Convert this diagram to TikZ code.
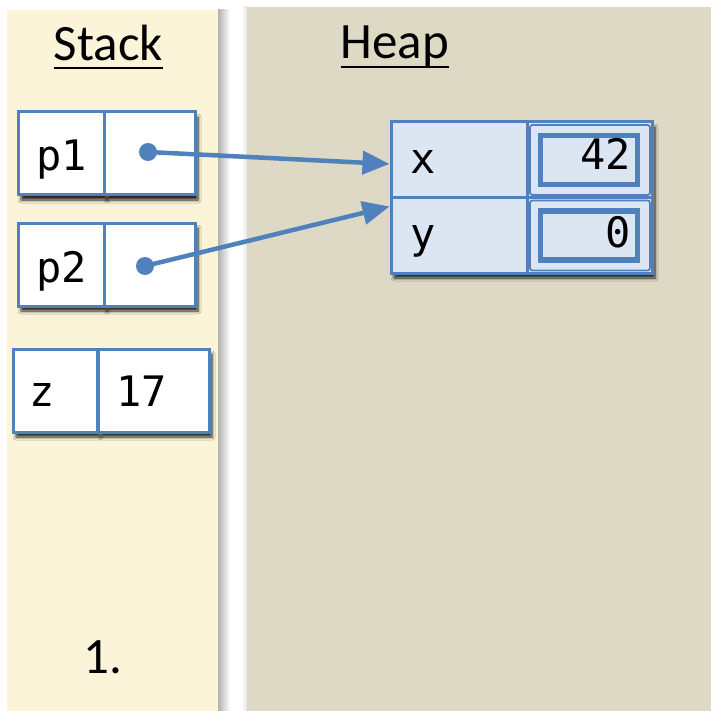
\documentclass[tikz,border=0pt]{standalone}
\usepackage{fontspec}
\setmainfont{Carlito}
\newfontfamily\cellmono{DejaVu Sans Mono}
\usetikzlibrary{arrows.meta,shadows.blur}
\definecolor{stackbg}{RGB}{251,244,217}
\definecolor{heapbg}{RGB}{221,217,196}
\definecolor{bblue}{RGB}{79,129,189}
\definecolor{cellfill}{RGB}{220,230,242}
\tikzset{
  boxshadow/.style={blur shadow={shadow xshift=3pt,shadow yshift=-5pt,shadow blur steps=6,shadow blur radius=3pt,shadow opacity=85}},
  stackcell/.style={draw=bblue,line width=3pt,fill=white,inner sep=0pt,minimum height=83pt,boxshadow},
  heapcell/.style={draw=bblue,line width=3pt,fill=cellfill,inner sep=0pt,minimum width=136pt},
  valframe/.style={draw=bblue,line width=1.8pt,fill=cellfill,rounded corners=2.5pt,inner sep=0pt,minimum width=120pt,minimum height=70pt},
  valinner/.style={draw=bblue,line width=5.5pt,fill=cellfill,inner sep=0pt,minimum width=97pt,minimum height=49pt},
  celltxt/.style={inner sep=0pt,font=\cellmono\fontsize{42}{42}\selectfont},
  titletxt/.style={inner sep=0pt,font=\fontsize{51}{60}\selectfont},
  dot/.style={circle,fill=bblue,inner sep=0pt,minimum size=18pt},
  ptr/.style={draw=bblue,line width=4.5pt,-{Triangle[length=27pt,width=23pt]}}
}
\begin{document}
\begin{tikzpicture}[x=1pt,y=-1pt]
\useasboundingbox (0,0) rectangle (711,711);
\fill[white] (0,0) rectangle (711,711);
% panels
\shade[left color=black!30,right color=white] (218,10) rectangle (230,711);
\fill[stackbg] (7,10) rectangle (218,711);
\shade[left color=white,right color=black!10] (241,7) rectangle (247,711);
\fill[heapbg] (247,7) rectangle (711,711);
% titles
\node[titletxt,anchor=base] (tstack) at (108.5,61) {Stack};
\draw[line width=2.5pt] ([yshift=-7pt]tstack.base west) -- ([yshift=-7pt]tstack.base east);
\node[titletxt,anchor=base] (theap) at (395,59) {Heap};
\draw[line width=2.5pt] ([yshift=-8pt]theap.base west) -- ([yshift=-8pt]theap.base east);
% stack cells
\node[stackcell,minimum width=86pt] (p1l) at (61,153.5) {};
\node[stackcell,minimum width=91pt] (p1v) at (149.5,153.5) {};
\node[stackcell,minimum width=86pt] (p2l) at (61,264.5) {};
\node[stackcell,minimum width=91pt] (p2v) at (149.5,264.5) {};
\node[stackcell,minimum width=84pt] (zl) at (55,390.5) {};
\node[stackcell,minimum width=111pt] (zv) at (153.5,390.5) {};
\node[celltxt,anchor=base west] (tp1) at (36,171) {p1};
\node[celltxt,anchor=base west] (tp2) at (36,282) {p2};
\node[celltxt,anchor=base west] (tz) at (29,406) {z};
\node[celltxt,anchor=base west] (t17) at (116,406) {17};
% heap struct
\node[fill=cellfill,inner sep=0pt,minimum width=261pt,minimum height=151pt,boxshadow] (hs) at (521.5,197.5) {};
\node[heapcell,minimum height=76pt] (hx) at (459,160) {};
\node[heapcell,minimum height=75pt] (hy) at (459,235.5) {};
\node[heapcell,minimum width=125pt,minimum height=76pt] (hxv) at (589.5,160) {};
\node[heapcell,minimum width=125pt,minimum height=75pt] (hyv) at (589.5,235.5) {};
\node[valframe] (fx) at (590,160) {};
\node[valinner] (ix) at (589,160) {};
\node[valframe] (fy) at (590,235.5) {};
\node[valinner] (iy) at (589,235.5) {};
\node[celltxt,anchor=base west] (tx) at (410,174) {x};
\node[celltxt,anchor=base west] (ty) at (410,248) {y};
\node[celltxt,anchor=base east] (t42) at (631,170) {42};
\node[celltxt,anchor=base east] (t0) at (631,247) {0};
% pointers
\node[dot] (d1) at (148,152) {};
\node[dot] (d2) at (145,266) {};
\draw[ptr] (d1.center) -- ([yshift=-4pt]hx.west);
\draw[ptr] (d2.center) -- ([yshift=-10pt]hy.north west);
% step number
\node[titletxt,anchor=base] (step1) at (103,673) {1.};
\end{tikzpicture}
\end{document}
